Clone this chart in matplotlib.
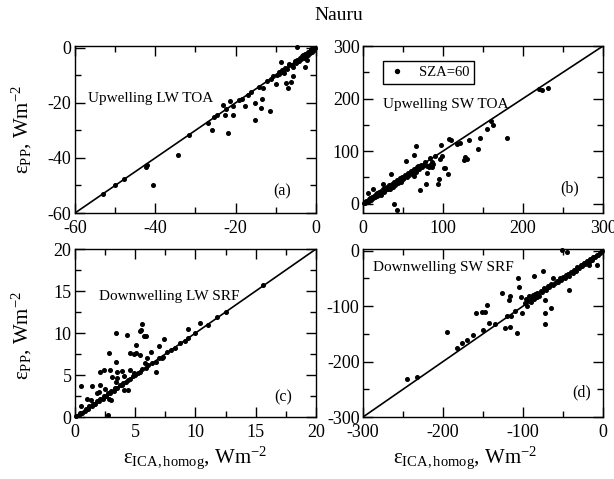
import matplotlib
matplotlib.use("Agg")
import matplotlib.pyplot as plt
from matplotlib.ticker import MultipleLocator

plt.rcParams['font.family'] = ['Liberation Serif', 'DejaVu Serif']
plt.rcParams['mathtext.fontset'] = 'custom'
plt.rcParams['mathtext.rm'] = 'Liberation Serif'
plt.rcParams['mathtext.it'] = 'Liberation Serif:italic'
plt.rcParams['axes.unicode_minus'] = False

# (a) Upwelling LW TOA
a_x = [-53.0, -50.1, -47.9, -42.4, -42.1, -40.5, -34.3, -31.5, -27.0, -26.0,
       -25.3, -24.6, -23.1, -22.7, -22.3, -21.8, -21.4, -20.6, -20.6, -19.2,
       -18.3, -17.7, -17.0, -16.2, -15.2, -15.1, -14.1, -13.7, -13.4, -13.3,
       -12.2, -11.5, -11.2, -10.6, -10.0, -9.6, -9.2, -8.8, -8.8, -8.5,
       -8.1, -7.8, -7.5, -7.2, -6.9, -6.6, -6.2, -6.0, -5.6, -5.3,
       -5.0, -4.6, -4.6, -4.3, -4.0, -3.7, -3.4, -3.1, -2.8, -2.7,
       -2.5, -2.2, -1.9, -1.6, -1.3, -1.0, -0.7, -0.4, -0.2, -9.3,
       -8.0, -6.8, -5.8, -3.2, -2.0, -1.2]
a_y = [-53.2, -50.0, -47.6, -43.2, -42.4, -49.8, -39.0, -31.8, -27.2, -29.7,
       -25.0, -24.5, -20.7, -24.3, -22.2, -30.9, -19.5, -21.3, -24.3, -19.0,
       -18.5, -21.0, -17.2, -16.0, -20.2, -26.1, -14.3, -21.9, -18.8, -14.7,
       -12.0, -22.8, -11.4, -10.3, -13.2, -9.8, -9.5, -5.1, -9.0, -8.2,
       -8.6, -7.4, -12.9, -7.6, -14.5, -6.3, -12.3, -6.4, -10.3, -5.0,
       -5.6, 0.3, -4.3, -4.9, -3.6, -4.1, -3.1, -3.6, -2.4, -7.0,
       -2.9, -4.5, -1.6, -2.0, -1.0, -1.4, -0.5, -0.8, -0.1, -8.7,
       -9.2, -6.0, -7.0, -2.6, -2.6, -0.6]

# (b) Upwelling SW TOA
b_x = [1, 2, 3, 4, 5, 6.7, 7, 8, 9, 10, 11, 12.5, 13, 14, 15, 16, 17, 18, 19, 20,
       21, 22, 23, 25, 25, 26, 27, 28, 30, 31, 33, 34, 35, 36, 37, 38.5, 39, 40, 42, 43,
       44, 46, 47, 49, 50, 50, 52, 54, 55, 56, 58, 60, 62, 63.5, 63.5, 64, 66, 66, 68, 69,
       70, 71, 72, 74, 76, 78, 78.5, 80, 80, 82, 83.6, 84, 86, 86, 88, 90, 94, 95, 96, 98,
       99, 101, 103, 106.5, 108, 110, 118, 121, 126, 128, 129.5, 132.5, 144, 146, 154.6,
       159.6, 162, 180, 220.6, 223.6, 231]
b_y = [1, 3, 1, 5, 3, 21, 8, 5, 11, 7, 13, 28, 10, 15, 12, 18, 14, 21, 16, 22,
       19, 24, 17, 38, 27, 22, 29, 25, 31, 28, 35, 27, 57, 38, 32, 0, 41, 36, 44, -12.6,
       39, 48, 42, 51, 46, 49, 54, 82, 50, 58, 55, 62, 57, 92, 52, 66, 110.5, 61, 70, 72,
       66, 25, 74, 69, 73, 80, 38, 72, 59, 70, 72.6, 86, 80, 69, 76, 90, 36.6, 47, 84, 112,
       90, 68, 68, 55.6, 123, 121, 114, 116, 83, 88, 84.6, 121, 104, 125, 142,
       157, 150, 125, 219, 216.7, 220]

# (c) Downwelling LW SRF
c_x = [0.1, 0.3, 0.4, 0.6, 0.8, 0.9, 1.1, 1.2, 1.4, 1.5, 1.7, 1.8, 2.0, 2.1, 2.3, 2.4,
       2.6, 2.7, 2.9, 3.0, 3.2, 3.3, 3.5, 3.7, 3.9, 4.0, 4.2, 4.4, 4.6, 4.8, 5.0, 5.2,
       5.4, 5.6, 5.9, 6.1, 6.4, 6.7, 7.0, 7.3, 7.6, 8.0, 8.3, 8.7, 9.1, 9.4, 10.0, 11.0,
       11.8, 12.5, 15.6,
       0.5, 0.5, 2.8, 3.4, 4.3, 5.45, 5.4, 5.1, 5.7, 5.9, 5.1, 4.6, 4.9, 5.4, 6.3, 7.0,
       7.35, 3.4, 3.5, 2.4, 2.1, 2.9, 4.6, 4.9, 4.1, 4.4, 2.8, 3.0, 2.1, 3.4, 3.5, 2.7,
       6.7, 7.25, 9.4, 10.4, 5.8, 1.4, 1.0, 1.8, 3.9, 4.1, 6.0, 2.5, 3.1, 1.3, 2.0, 5.6]
c_y = [0.1, 0.2, 0.5, 0.5, 0.7, 1.0, 1.0, 1.3, 1.3, 1.6, 1.6, 1.9, 1.9, 2.2, 2.2, 2.5,
       2.5, 2.8, 2.8, 3.1, 3.1, 3.4, 3.4, 3.8, 3.8, 4.1, 4.2, 4.4, 4.5, 4.9, 5.0, 5.3,
       5.4, 5.7, 5.8, 6.2, 6.4, 6.6, 7.0, 7.2, 7.7, 8.0, 8.2, 8.8, 9.0, 9.4, 10.0, 11.0,
       11.9, 12.5, 15.7,
       3.7, 1.3, 7.6, 10.0, 9.8, 10.35, 10.3, 8.6, 9.65, 9.7, 7.6, 7.6, 7.55, 7.4, 7.75, 8.5,
       9.3, 6.6, 5.4, 5.6, 5.4, 5.6, 5.6, 5.2, 3.2, 3.2, 2.2, 2.0, 3.8, 4.2, 4.6, 0.24,
       5.4, 7.0, 10.5, 11.25, 6.4, 3.7, 2.2, 2.8, 5.5, 4.9, 7.0, 3.3, 4.8, 2.0, 3.0, 11.1]

# (d) Downwelling SW SRF
d_x = [-244.4, -233, -195.4, -182, -176, -170, -162.5, -159, -150, -147.5, -151,
       -145.4, -142, -126.7, -122.5, -117.5, -115, -116, -116, -107, -106.6, -104.6,
       -100.8, -85.9, -74.6, -72.5, -73, -73, -65.4, -62.5, -51.6, -44.6, -42, -7.9, -17,
       -103, -120, -110, -135,
       -98, -96, -95, -93, -92, -90, -89, -88, -86, -85, -83, -82, -80, -78, -76, -74,
       -71, -69, -67, -65, -63, -60, -58, -56, -54, -52, -50, -48, -46, -44, -42, -40,
       -38, -36, -34, -32, -30, -28, -26, -24, -22, -20, -18, -16, -14, -12, -10, -8,
       -6, -4, -2, -1]
d_y = [-231.5, -227, -147, -176, -167, -161, -152, -113, -143, -110, -111,
       -98, -131, -76, -140, -89, -118, -82, -137, -149, -50, -66,
       -113, -45, -36.6, -89, -112, -132, -103, -49, 1.5, -3, -70, -26, -26,
       -83, -118, -108, -133,
       -95, -88, -100, -90, -82, -93, -86, -80, -88, -78, -84, -76, -82, -72, -75, -68,
       -70, -64, -66, -60, -62, -58, -55, -56, -50, -53, -47, -49, -44, -42, -45, -38,
       -40, -34, -36, -30, -32, -26, -28, -22, -24, -19, -20, -15, -16, -11, -12, -7,
       -8, -4, -3, -1]

# axis ranges and one-to-one line end points
lim_a = [-60, 0]
lim_b = [0, 300]
lim_c = [0, 20]
lim_d = [-300, 0]

panels = [
    dict(x=a_x, y=a_y, xlim=lim_a, ylim=(-60, 0.6), major=20, minor=10,
         pos=[0.1221, 0.5553, 0.3925, 0.3486],
         name="Upwelling LW TOA", name_xy=(-56.8, -18.5), tag="(a)", tag_xy=(-8.5, -52.3)),
    dict(x=b_x, y=b_y, xlim=lim_b, ylim=(-18, 300), major=100, minor=50,
         pos=[0.5912, 0.5553, 0.3909, 0.3486],
         name="Upwelling SW TOA", name_xy=(25, 188), tag="(b)", tag_xy=(258, 28)),
    dict(x=c_x, y=c_y, xlim=lim_c, ylim=(0, 20), major=5, minor=2.5,
         pos=[0.1221, 0.1294, 0.3925, 0.3507],
         name="Downwelling LW SRF", name_xy=(2.0, 14.4), tag="(c)", tag_xy=(17.3, 2.3)),
    dict(x=d_x, y=d_y, xlim=lim_d, ylim=(-300, 3), major=100, minor=50,
         pos=[0.5912, 0.1294, 0.3909, 0.3507],
         name="Downwelling SW SRF", name_xy=(-287, -31), tag="(d)", tag_xy=(-27, -255)),
]

fig = plt.figure(figsize=(6.14, 4.79), dpi=100)

axes = []
for p in panels:
    ax = fig.add_axes(p["pos"])
    ax.plot(p["xlim"], p["xlim"], color="black", lw=1.2, zorder=2)
    pts, = ax.plot(p["x"], p["y"], linestyle="none", marker="o", ms=2.6,
                   color="black", zorder=3, clip_on=False, label="SZA=60")
    ax.set_xlim(p["xlim"])
    ax.set_ylim(p["ylim"])
    ax.xaxis.set_major_locator(MultipleLocator(p["major"]))
    ax.xaxis.set_minor_locator(MultipleLocator(p["minor"]))
    ax.yaxis.set_major_locator(MultipleLocator(p["major"]))
    ax.yaxis.set_minor_locator(MultipleLocator(p["minor"]))
    ax.tick_params(which="both", direction="in", top=True, right=True,
                   labelsize=13, width=1.0)
    ax.tick_params(axis="x", which="both", pad=5)
    ax.tick_params(axis="y", which="both", pad=2.5)
    ax.tick_params(which="major", length=7)
    ax.tick_params(which="minor", length=4)
    for s in ax.spines.values():
        s.set_linewidth(1.0)
    ax.text(p["name_xy"][0], p["name_xy"][1], p["name"], fontsize=11,
            ha="left", va="center")
    ax.text(p["tag_xy"][0], p["tag_xy"][1], p["tag"], fontsize=11.5,
            ha="center", va="center")
    axes.append((ax, pts))

# legend in panel (b)
ax_b, pts_b = axes[1]
leg = ax_b.legend(handles=[pts_b], loc="upper left", bbox_to_anchor=(0.083, 0.912),
                  borderaxespad=0, fancybox=False, edgecolor="black", framealpha=1,
                  fontsize=10.5, handlelength=1.2, handletextpad=0.9,
                  borderpad=0.35, markerscale=1.1)
leg.get_frame().set_linewidth(1.0)

fig.text(0.552, 0.968, "Nauru", fontsize=14, ha="center", va="center")

ylab = r"ε$_{\mathrm{PP}}$, Wm$^{-2}$"
xlab = r"ε$_{\mathrm{ICA,homog}}$, Wm$^{-2}$"
fig.text(0.036, 0.73, ylab, fontsize=15, rotation=90, ha="center", va="center")
fig.text(0.036, 0.30, ylab, fontsize=15, rotation=90, ha="center", va="center")
fig.text(0.318, 0.045, xlab, fontsize=15, ha="center", va="center")
fig.text(0.757, 0.045, xlab, fontsize=15, ha="center", va="center")

fig.savefig("out.png", dpi=100)
